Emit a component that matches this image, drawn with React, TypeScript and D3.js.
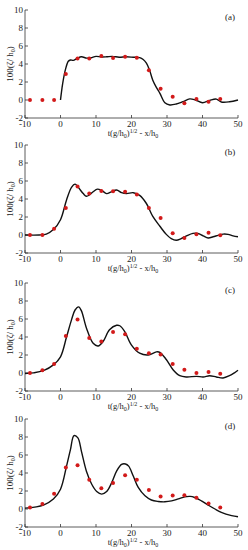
import React from 'react';
import * as d3 from 'd3';

// measured time positions of the gauge samples (same for every panel)
const dotT = [-8.6, -5.1, -1.8, 1.5, 4.8, 8.1, 11.5, 14.8, 18.2, 21.5, 24.9, 28.2, 31.6, 34.9, 38.3, 41.7, 45];

const dotsA = [0, 0, 0, 2.9, 4.6, 4.6, 4.9, 4.67, 4.8, 4.7, 3.3, 1.26, 0.35, -0.35, 0.1, -0.2, 0.1];
const dotsB = [0, 0, 0.69, 3.0, 5.4, 4.6, 4.9, 4.87, 4.8, 4.5, 3.0, 1.9, 0.2, -0.33, 0.07, 0.25, -0.04];
const dotsC = [0, 0.3, 1.0, 4.1, 5.95, 3.9, 3.5, 4.56, 4.3, 2.7, 2.2, 2.06, 1.0, 0.37, 0, 0.1, -0.07];
const dotsD = [0.18, 0.55, 1.7, 4.6, 4.87, 3.26, 2.3, 2.9, 3.74, 3.26, 2.1, 1.4, 1.5, 1.54, 1.25, 0.62, 0.18];

// numerical curves as [t, value]
const curveA: [number, number][] = [
  [0, 0], [0.6, 1.8], [1.4, 3.4], [2.2, 4.3], [2.8, 4.45], [3.6, 4.4], [4.6, 4.6], [5.9, 4.8],
  [7.4, 4.65], [8.6, 4.7], [10, 4.85], [11.5, 4.78], [13, 4.8], [14.6, 4.85], [16.5, 4.75],
  [18.5, 4.8], [20.5, 4.75], [22.3, 4.7], [23.3, 4.5], [24.2, 4.1], [25.1, 3.3], [26, 2.2],
  [27, 1.4], [28, 0.74], [29.4, -0.3], [30.8, -0.55], [32.6, -0.45], [34.5, -0.18], [36.4, 0.12],
  [38, 0.0], [40, -0.3], [42, -0.05], [43.9, 0.1], [45.3, -0.22], [47.6, -0.2], [50, 0]
];
const curveB: [number, number][] = [
  [-10, 0], [-6, 0], [-4, 0.1], [-2, 0.6], [0, 1.7], [1.7, 3.9], [3.1, 5.3], [4.1, 5.65],
  [5, 5.3], [6.4, 4.6], [7.3, 4.3], [8.3, 4.5], [9.2, 4.8], [10.4, 5.1], [11.6, 4.95], [13, 4.6],
  [14.3, 4.8], [15.8, 5.0], [17.2, 4.7], [18.6, 4.6], [20.5, 4.7], [22.3, 4.4], [24.2, 3.5],
  [26, 2.06], [28, 0.97], [29.8, 0.07], [31.2, -0.4], [32.6, -0.58], [34, -0.4], [35.5, -0.1],
  [37.3, 0.18], [38.7, 0.18], [40.2, -0.1], [41.6, -0.33], [43, -0.2], [44.4, -0.04],
  [45.8, 0.1], [47.2, 0.07], [48.6, -0.1], [50, -0.2]
];
const curveC: [number, number][] = [
  [-10, -0.05], [-7.6, 0.02], [-4.8, 0.26], [-2, 0.9], [0, 1.8], [1.7, 4.0], [3.1, 5.9],
  [4.1, 7.0], [5.1, 7.35], [5.9, 6.9], [7.3, 5.0], [9.2, 3.3], [10.6, 3.0], [12, 3.5],
  [13.8, 4.8], [15.8, 5.3], [16.7, 5.25], [18.1, 4.6], [20, 3.1], [22.3, 2.2], [24.7, 2.0],
  [27, 2.35], [28, 2.3], [29.8, 1.5], [31.7, 0.37], [33.6, -0.3], [35.5, -0.44], [38.3, -0.37],
  [40.2, -0.44], [42, -0.3], [43.9, -0.44], [45.8, -0.55], [47.6, -0.3], [49, 0.02], [50, 0.3]
];
const curveD: [number, number][] = [
  [-10, 0.1], [-4.8, 0.44], [-2, 1.1], [0, 2.2], [1.7, 4.76], [2.8, 6.6], [3.8, 8.15],
  [4.9, 7.9], [5.9, 6.4], [7.3, 4.2], [8.8, 2.75], [10.2, 1.94], [11.6, 1.65], [13, 1.94],
  [14.4, 2.9], [15.8, 4.2], [17.2, 4.95], [18.3, 5.0], [19.2, 4.76], [20.5, 3.66], [21.9, 2.4],
  [23.8, 1.47], [25.6, 1.0], [27.5, 0.84], [29.4, 0.8], [31.3, 0.9], [33.2, 1.13], [35, 1.35],
  [36.5, 1.4], [37.8, 1.28], [39.7, 0.9], [41.6, 0.44], [43.5, 0], [45.3, -0.37], [48.2, -0.73],
  [50, -0.86]
];

const xTicks = [-10, 0, 10, 20, 30, 40, 50];
const yTicks = [-2, 0, 2, 4, 6, 8, 10];
const labels = ['(a)', '(b)', '(c)', '(d)'];
const panelTops = [10, 145, 283, 419];

const FONT = '"Liberation Serif", "DejaVu Serif", serif';

function Panel({ top, dots, curve, label }: { top: number; dots: number[]; curve: [number, number][]; label: string }) {
  const x = d3.scaleLinear().domain([-10, 50]).range([25, 238]);
  const y = d3.scaleLinear().domain([-2, 10]).range([top + 108, top]);
  const line = d3
    .line<[number, number]>()
    .x(d => x(d[0]))
    .y(d => y(d[1]))
    .curve(d3.curveCatmullRom.alpha(0.5));
  const base = y(-2);
  const mid = (y(-2) + y(10)) / 2;

  return (
    <g fontFamily={FONT} fill="#222">
      <line x1={x(-10)} x2={x(-10)} y1={base} y2={y(10)} stroke="#333" strokeWidth={0.8} />
      <line x1={x(-10)} x2={x(50)} y1={base} y2={base} stroke="#333" strokeWidth={0.8} />
      {yTicks.map(t => (
        <g key={'y' + t}>
          <line x1={x(-10)} x2={x(-10) + 3} y1={y(t)} y2={y(t)} stroke="#333" strokeWidth={0.8} />
          <text x={x(-10) - 2} y={y(t) + 3} fontSize={9} textAnchor="end">{t}</text>
        </g>
      ))}
      {xTicks.map(t => (
        <g key={'x' + t}>
          <line x1={x(t)} x2={x(t)} y1={base} y2={base - 3} stroke="#333" strokeWidth={0.8} />
          <text x={x(t)} y={base + 9} fontSize={9} textAnchor="middle">{t}</text>
        </g>
      ))}
      <text x={133} y={base + 18} fontSize={8.5} textAnchor="middle">
        t(g/h<tspan fontSize={6} dy={2}>0</tspan>
        <tspan dy={-2}>)</tspan>
        <tspan fontSize={6} dy={-3}>1/2</tspan>
        <tspan dy={3}> - x/h</tspan>
        <tspan fontSize={6} dy={2}>0</tspan>
      </text>
      <text transform={`translate(13,${mid}) rotate(-90)`} fontSize={9} textAnchor="middle">
        100(ζ/ h<tspan fontSize={6} dy={2}>0</tspan>
        <tspan dy={-2}>)</tspan>
      </text>
      <text x={230} y={top + 10} fontSize={9} textAnchor="middle">{label}</text>
      <path d={line(curve) ?? ''} fill="none" stroke="#111" strokeWidth={1.4} />
      {dots.map((v, i) => (
        <circle key={i} cx={x(dotT[i])} cy={y(v)} r={2} fill="#d21a1a" />
      ))}
    </g>
  );
}

export default function App() {
  const dots = [dotsA, dotsB, dotsC, dotsD];
  const curves = [curveA, curveB, curveC, curveD];
  return (
    <div style={{ position: 'absolute', left: 0, top: 0 }}>
      <svg width={248} height={550} style={{ display: 'block', background: '#fff' }}>
        {panelTops.map((top, i) => (
          <Panel key={i} top={top} dots={dots[i]} curve={curves[i]} label={labels[i]} />
        ))}
      </svg>
    </div>
  );
}
